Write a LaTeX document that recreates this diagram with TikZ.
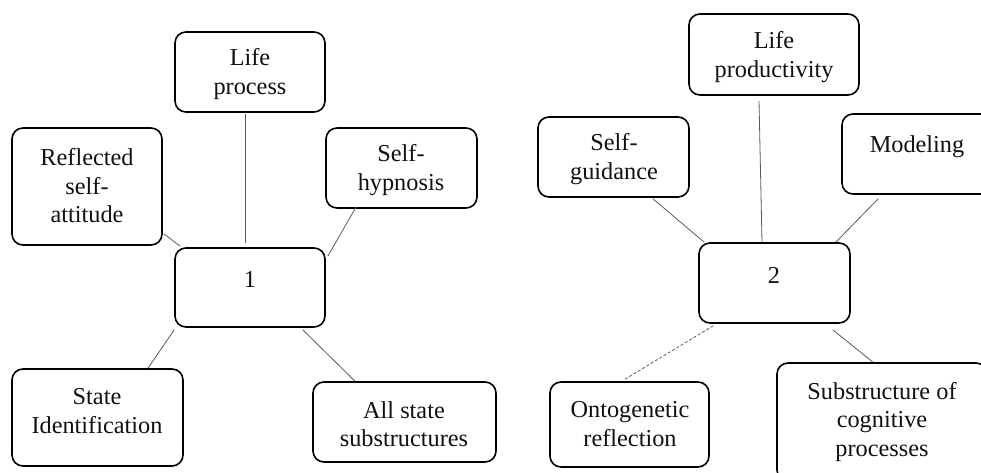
\documentclass[tikz,border=0pt]{standalone}
\usepackage{fontspec}
\setmainfont{Liberation Serif}
\usetikzlibrary{calc}
\definecolor{txt}{HTML}{111111}
\definecolor{conn}{HTML}{5A5A5A}
\tikzset{
  box/.style={draw=black, line width=1.6pt, rounded corners=11pt, inner sep=0pt, fill=white},
  lbl/.style={align=center, text=txt, font=\fontsize{24.3}{28.5}\selectfont, inner sep=0pt},
  link/.style={draw=conn, line width=0.8pt},
  dlink/.style={link, dash pattern=on 3pt off 2pt}
}
\begin{document}
\begin{tikzpicture}[x=1pt,y=-1pt]
\useasboundingbox (0,0) rectangle (981,473);
\clip (0,0) rectangle (981,473);
% boxes
\node[box, minimum width=150pt, minimum height=80pt] (lp) at (250,72) {};
\node[box, minimum width=150pt, minimum height=117pt] (rs) at (87,186.5) {};
\node[box, minimum width=151pt, minimum height=80pt] (sh) at (401.5,168) {};
\node[box, minimum width=150pt, minimum height=79pt] (c1) at (250,287.5) {};
\node[box, minimum width=171pt, minimum height=97pt] (si) at (97.5,417.5) {};
\node[box, minimum width=183pt, minimum height=80pt] (as) at (404.5,422) {};
\node[box, minimum width=170pt, minimum height=81pt] (lpr) at (774,54.5) {};
\node[box, minimum width=151pt, minimum height=80pt] (sg) at (613.5,157) {};
\node[box, minimum width=150pt, minimum height=80pt] (mo) at (917,154) {};
\node[box, minimum width=151pt, minimum height=80pt] (c2) at (774.5,283) {};
\node[box, minimum width=159pt, minimum height=85pt] (on) at (629.5,424.5) {};
\node[box, minimum width=210pt, minimum height=118pt] (ss) at (882,422) {};
% labels
\node[lbl] (tlp) at (250,74) {Life\\process};
\node[lbl] (trs) at (87,186) {Reflected\\self-\\attitude};
\node[lbl] (tsh) at (401,170) {Self-\\hypnosis};
\node[lbl] (tc1) at (250,279) {1};
\node[lbl] (tsi) at (97,411) {State\\Identification};
\node[lbl] (tas) at (404,424) {All state\\substructures};
\node[lbl] (tlpr) at (774,57) {Life\\productivity};
\node[lbl] (tsg) at (614,159) {Self-\\guidance};
\node[lbl] (tmo) at (917,147) {Modeling};
\node[lbl] (tc2) at (774,275) {2};
\node[lbl] (ton) at (630,424) {Ontogenetic\\reflection};
\node[lbl] (tss) at (882,422) {Substructure of\\cognitive\\processes};
% connectors
\draw[link] ([xshift=-4.3pt,yshift=-1pt]lp.south) -- ([xshift=-4.3pt,yshift=4pt]c1.north);
\draw[link] ([xshift=1pt,yshift=12pt]rs.south east) -- ([xshift=6pt,yshift=1pt]c1.north west);
\draw[link] ([xshift=31pt,yshift=2pt]sh.south west) -- ([xshift=2pt,yshift=-9pt]c1.north east);
\draw[link] ([yshift=-2pt]c1.south west) -- ([xshift=50.5pt]si.north);
\draw[link] ([xshift=-23pt,yshift=-2pt]c1.south east) -- ([xshift=-49.5pt]as.north);
\draw[link] ([xshift=-15pt,yshift=-5pt]lpr.south) -- ([xshift=-12.5pt]c2.north);
\draw[link] ([xshift=39.5pt,yshift=-1pt]sg.south) -- ([xshift=6pt]c2.north west);
\draw[link] ([xshift=37pt,yshift=-4pt]mo.south west) -- ([xshift=-15pt]c2.north east);
\draw[dlink] ([xshift=15pt,yshift=-2pt]c2.south west) -- ([xshift=-4.5pt,yshift=2pt]on.north);
\draw[link] ([xshift=-18pt,yshift=-6pt]c2.south east) -- ([xshift=-9pt]ss.north);
\end{tikzpicture}
\end{document}
